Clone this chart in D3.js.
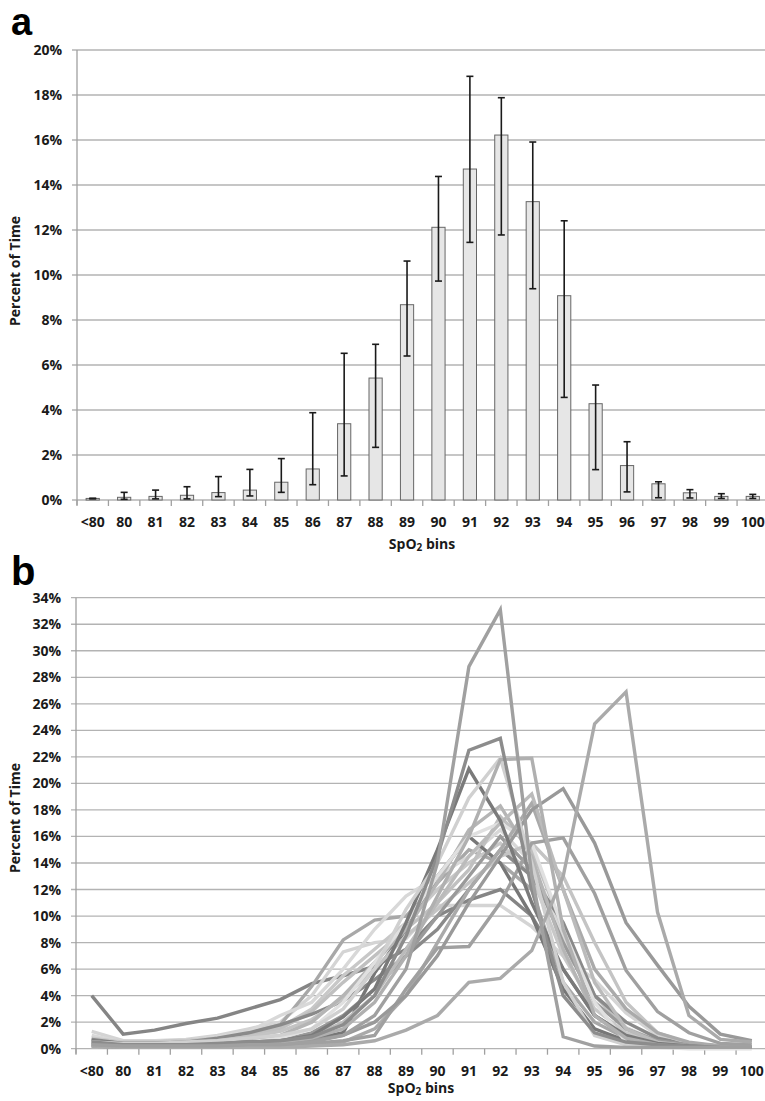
<!DOCTYPE html>
<html>
<head>
<meta charset="utf-8">
<script src="https://cdn.jsdelivr.net/npm/d3@7"></script>
<style>
  body { margin: 0; background: #fff; }
  text { font-family: "Open Sans", "Liberation Sans", sans-serif; font-weight: bold; fill: #1a1a1a; }
</style>
</head>
<body>
<script>
const width = 765;
const height = 1101;

// SpO2 bins (categories)
const bins = ["<80", "80", "81", "82", "83", "84", "85", "86", "87", "88", "89", "90",
              "91", "92", "93", "94", "95", "96", "97", "98", "99", "100"];

// panel a: mean percent of time, with error bar low/high
const meanPct = [0.07, 0.12, 0.16, 0.21, 0.33, 0.44, 0.79, 1.38, 3.39, 5.42, 8.68, 12.12,
                 14.71, 16.22, 13.26, 9.08, 4.28, 1.53, 0.72, 0.32, 0.16, 0.16];
const errLow  = [0.05, 0.03, 0.05, 0.05, 0.15, 0.18, 0.34, 0.68, 1.07, 2.34, 6.40, 9.73,
                 11.45, 11.78, 9.39, 4.56, 1.35, 0.36, 0.10, 0.09, 0.07, 0.07];
const errHigh = [0.08, 0.34, 0.44, 0.59, 1.04, 1.36, 1.84, 3.88, 6.52, 6.92, 10.62, 14.38,
                 18.83, 17.88, 15.91, 12.41, 5.11, 2.59, 0.81, 0.46, 0.28, 0.25];

const yTicksA = [0, 2, 4, 6, 8, 10, 12, 14, 16, 18, 20];
const yTicksB = d3.range(0, 35, 2);

// panel b: individual subjects
const subj01 = [0.3, 0.2, 0.2, 0.2, 0.2, 0.3, 0.3, 0.5, 1.0, 2.5, 6.0, 14.0, 28.8, 33.1, 13.0, 0.9, 0.2, 0.1, 0.1, 0.1, 0.1, 0.1];
const subj02 = [0.5, 0.3, 0.3, 0.3, 0.4, 0.5, 0.6, 0.9, 1.8, 4.0, 8.5, 14.5, 22.5, 23.4, 12.0, 4.0, 1.2, 0.5, 0.3, 0.2, 0.1, 0.1];
const subj03 = [0.6, 0.4, 0.4, 0.4, 0.5, 0.5, 0.6, 1.0, 2.4, 4.5, 9.5, 15.0, 21.1, 17.2, 11.0, 6.0, 2.5, 1.0, 0.4, 0.2, 0.1, 0.1];
const subj04 = [0.5, 0.4, 0.4, 0.5, 0.6, 0.8, 1.0, 1.5, 3.0, 6.0, 10.5, 14.0, 18.9, 21.9, 14.0, 5.0, 1.0, 0.3, 0.1, 0.1, 0.1, 0.1];
const subj05 = [0.3, 0.2, 0.2, 0.3, 0.3, 0.4, 0.5, 0.8, 1.5, 3.5, 7.0, 11.5, 16.0, 21.8, 21.9, 9.0, 2.5, 0.8, 0.3, 0.1, 0.1, 0.1];
const subj06 = [0.4, 0.3, 0.3, 0.3, 0.4, 0.5, 0.6, 0.9, 2.0, 4.0, 7.5, 11.0, 14.5, 17.0, 19.2, 12.0, 5.0, 1.5, 0.5, 0.2, 0.1, 0.1];
const subj07 = [0.3, 0.2, 0.2, 0.2, 0.3, 0.3, 0.4, 0.6, 1.0, 2.0, 4.0, 7.0, 11.0, 14.5, 18.0, 19.6, 15.5, 9.5, 6.3, 3.2, 1.1, 0.6];
const subj08 = [0.2, 0.1, 0.1, 0.1, 0.1, 0.1, 0.1, 0.2, 0.3, 0.6, 1.4, 2.5, 5.0, 5.3, 7.4, 13.0, 24.5, 26.9, 10.3, 2.5, 0.7, 0.5];
const subj09 = [0.2, 0.1, 0.1, 0.1, 0.2, 0.2, 0.3, 0.4, 0.6, 1.0, 4.5, 7.6, 7.7, 11.0, 15.5, 15.9, 11.7, 5.9, 2.8, 1.2, 0.4, 0.3];
const subj10 = [4.0, 1.1, 1.4, 1.9, 2.3, 3.0, 3.7, 4.9, 5.5, 6.2, 7.5, 10.0, 11.2, 12.0, 10.0, 6.0, 2.5, 1.0, 0.5, 0.3, 0.2, 0.1];
const subj11 = [0.8, 0.5, 0.5, 0.6, 0.8, 1.2, 1.8, 4.7, 8.2, 9.7, 10.0, 12.5, 15.0, 14.0, 12.0, 5.0, 2.0, 0.8, 0.3, 0.1, 0.1, 0.1];
const subj12 = [1.3, 0.6, 0.6, 0.7, 1.0, 1.5, 2.0, 4.0, 7.3, 8.0, 8.3, 10.8, 10.8, 10.8, 9.2, 7.0, 5.2, 2.7, 1.0, 0.4, 0.2, 0.1];
const subj13 = [0.5, 0.3, 0.3, 0.3, 0.4, 0.4, 0.5, 0.7, 1.2, 5.7, 9.0, 13.0, 16.0, 14.0, 10.0, 4.5, 1.5, 0.6, 0.3, 0.2, 0.1, 0.1];
const subj14 = [0.8, 0.5, 0.5, 0.6, 0.8, 1.0, 1.6, 3.0, 5.5, 7.5, 9.5, 12.0, 14.0, 15.5, 13.0, 7.0, 3.0, 1.2, 0.5, 0.2, 0.1, 0.1];
const subj15 = [0.4, 0.3, 0.3, 0.4, 0.5, 0.7, 1.0, 2.0, 4.0, 6.5, 9.0, 12.5, 16.5, 18.3, 14.5, 7.5, 2.5, 0.8, 0.3, 0.1, 0.1, 0.1];
const subj16 = [0.3, 0.2, 0.2, 0.2, 0.3, 0.4, 0.6, 1.2, 2.5, 4.5, 7.0, 10.0, 13.0, 16.0, 13.5, 8.0, 3.5, 1.5, 0.6, 0.3, 0.2, 0.1];
const subj17 = [0.6, 0.4, 0.4, 0.5, 0.7, 1.0, 1.5, 2.8, 5.0, 7.0, 9.0, 11.0, 13.5, 17.5, 15.0, 9.0, 4.0, 1.5, 0.5, 0.2, 0.1, 0.1];
const subj18 = [0.3, 0.3, 0.3, 0.3, 0.4, 0.5, 0.8, 1.5, 3.5, 6.5, 9.5, 13.0, 16.0, 17.0, 15.5, 9.0, 3.5, 0.5, 0.1, 0.0, 0.0, 0.0];
const subj19 = [0.7, 0.4, 0.4, 0.5, 0.8, 1.2, 1.8, 2.6, 3.6, 5.2, 7.0, 9.0, 12.0, 15.0, 13.0, 9.5, 4.0, 2.0, 0.8, 0.3, 0.1, 0.1];
const subj20 = [0.2, 0.1, 0.1, 0.1, 0.1, 0.2, 0.2, 0.3, 0.5, 1.5, 4.0, 8.0, 12.0, 15.0, 18.5, 12.0, 6.0, 3.0, 1.2, 0.5, 0.2, 0.1];
const subj21 = [1.0, 0.5, 0.5, 0.6, 0.9, 1.3, 2.5, 3.5, 6.0, 9.0, 11.5, 13.0, 14.5, 16.5, 14.0, 8.5, 4.0, 1.6, 0.6, 0.2, 0.1, 0.1];
const subj22 = [0.4, 0.3, 0.3, 0.4, 0.6, 0.9, 1.3, 2.2, 3.8, 6.0, 8.5, 10.5, 12.5, 14.5, 15.5, 13.0, 8.0, 3.5, 1.2, 0.4, 0.2, 0.1];

const subjects = [subj10, subj12, subj11, subj21, subj14, subj17, subj19, subj13, subj22, subj16,
                  subj15, subj18, subj20, subj09, subj06, subj07, subj03, subj04, subj05, subj02, subj08, subj01];
const greys = ["#858585", "#d4d4d4", "#a8a8a8", "#d8d8d8", "#c8c8c8", "#c0c0c0", "#8a8a8a", "#777777", "#c4c4c4", "#9a9a9a",
               "#b5b5b5", "#e0e0e0", "#aaaaaa", "#a0a0a0", "#bbbbbb", "#999999", "#7a7a7a", "#d0d0d0", "#b0b0b0", "#8c8c8c", "#aaaaaa", "#a0a0a0"];

const svg = d3.select("body").append("svg")
  .attr("width", width)
  .attr("height", height);

function drawFrame(x, y, ticks, bottom, left) {
  const g = svg.append("g");
  // gridlines
  g.selectAll("line.grid")
    .data(ticks)
    .enter().append("line")
    .attr("x1", left - 5)
    .attr("x2", x.range()[1])
    .attr("y1", d => y(d))
    .attr("y2", d => y(d))
    .attr("stroke", "#b3b3b3")
    .attr("stroke-width", 1.3);
  // y axis line
  g.append("line")
    .attr("x1", left).attr("x2", left)
    .attr("y1", y(ticks[ticks.length - 1])).attr("y2", bottom + 5)
    .attr("stroke", "#a0a0a0").attr("stroke-width", 1.3);
  g.selectAll("text.ylab")
    .data(ticks)
    .enter().append("text")
    .attr("x", left - 15)
    .attr("y", d => y(d) + 5)
    .attr("text-anchor", "end")
    .style("font-size", "14px")
    .text(d => d + "%");
  // category boundary ticks
  const bounds = bins.map(b => x(b)).concat([x.range()[1]]);
  g.selectAll("line.xt")
    .data(bounds)
    .enter().append("line")
    .attr("x1", d => d).attr("x2", d => d)
    .attr("y1", bottom).attr("y2", bottom + 6)
    .attr("stroke", "#a0a0a0").attr("stroke-width", 1.3);
  g.selectAll("text.xlab")
    .data(bins)
    .enter().append("text")
    .attr("x", d => x(d) + x.bandwidth() / 2)
    .attr("y", bottom + 27)
    .attr("text-anchor", "middle")
    .style("font-size", "14px")
    .text(d => d);
}

function axisTitles(cx, cy, bx, by) {
  svg.append("text")
    .attr("transform", "translate(" + cx + "," + cy + ") rotate(-90)")
    .attr("text-anchor", "middle")
    .style("font-size", "14px")
    .text("Percent of Time");
  const t = svg.append("text")
    .attr("x", bx).attr("y", by)
    .attr("text-anchor", "middle")
    .style("font-size", "14px");
  t.append("tspan").text("SpO");
  t.append("tspan").attr("dy", 2).style("font-size", "10px").text("2");
  t.append("tspan").attr("dy", -2).text(" bins");
}

// ---- panel a ----
const xA = d3.scaleBand().domain(bins).range([77, 768.5]);
const yA = d3.scaleLinear().domain([0, 20]).range([500, 50]);

drawFrame(xA, yA, yTicksA, 500, 77);

const barW = xA.bandwidth() * 0.42;
svg.append("g").selectAll("rect")
  .data(bins)
  .enter().append("rect")
  .attr("x", d => xA(d) + xA.bandwidth() / 2 - barW / 2)
  .attr("y", (d, i) => yA(meanPct[i]))
  .attr("width", barW)
  .attr("height", (d, i) => yA(0) - yA(meanPct[i]))
  .attr("fill", "#e6e6e6")
  .attr("stroke", "#666")
  .attr("stroke-width", 1);

const err = svg.append("g").attr("stroke", "#1a1a1a").attr("stroke-width", 1.6);
bins.forEach((b, i) => {
  const cx = xA(b) + xA.bandwidth() / 2;
  err.append("line").attr("x1", cx).attr("x2", cx)
    .attr("y1", yA(errLow[i])).attr("y2", yA(errHigh[i]));
  [errLow[i], errHigh[i]].forEach(v => {
    err.append("line").attr("x1", cx - 3.5).attr("x2", cx + 3.5)
      .attr("y1", yA(v)).attr("y2", yA(v));
  });
});

axisTitles(20, 271, 422, 549);

svg.append("text")
  .attr("x", 11).attr("y", 35)
  .style("font-family", "'Liberation Sans', Arial, sans-serif")
  .style("font-size", "38px")
  .style("fill", "#000")
  .text("a");

// ---- panel b ----
const xB = d3.scaleBand().domain(bins).range([76, 767.5]);
const yB = d3.scaleLinear().domain([0, 34]).range([1048.7, 597.7]);

drawFrame(xB, yB, yTicksB, 1048.7, 76);

const line = d3.line()
  .x((d, i) => xB(bins[i]) + xB.bandwidth() / 2)
  .y(d => yB(d));

svg.append("g").selectAll("path")
  .data(subjects)
  .enter().append("path")
  .attr("d", line)
  .attr("fill", "none")
  .attr("stroke", (d, i) => greys[i])
  .attr("stroke-width", 3.4);

axisTitles(20, 818, 421, 1093);

svg.append("text")
  .attr("x", 11).attr("y", 585)
  .style("font-family", "'Liberation Sans', Arial, sans-serif")
  .style("font-size", "40px")
  .style("fill", "#000")
  .text("b");
</script>
</body>
</html>
